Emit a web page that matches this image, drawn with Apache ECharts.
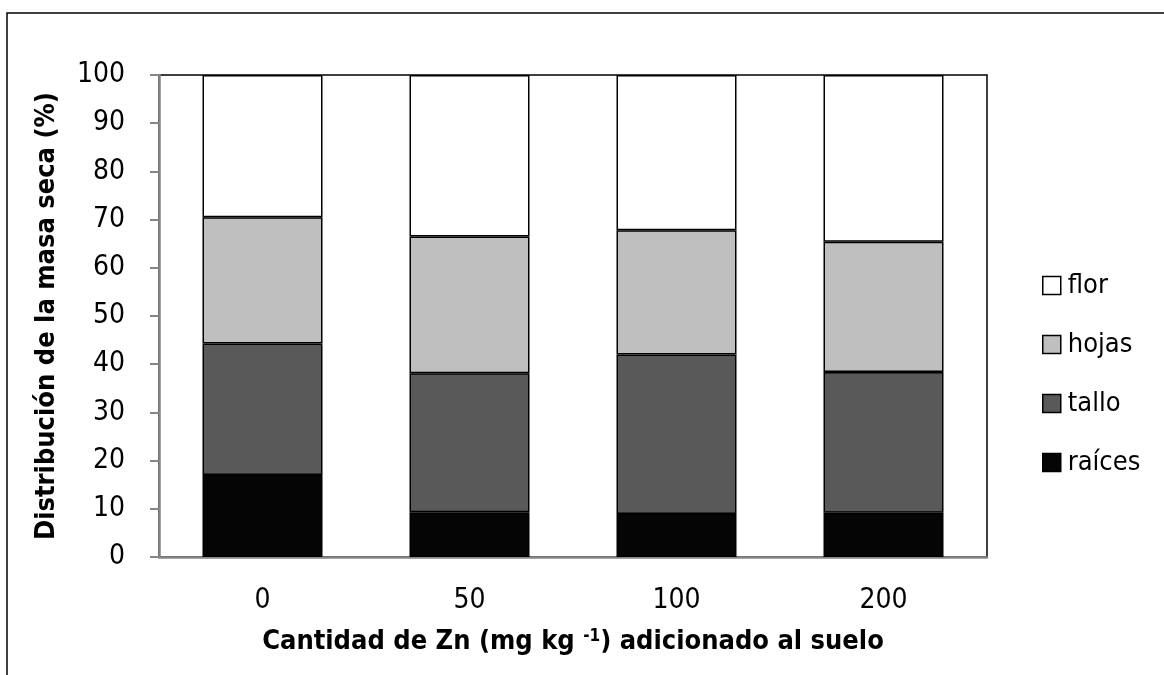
<!DOCTYPE html>
<html><head><meta charset="utf-8">
<script src="https://cdn.jsdelivr.net/npm/echarts@6/dist/echarts.min.js"></script>
<style>html,body{margin:0;padding:0;background:#fff}#c{width:1164px;height:675px}</style>
</head><body><div id="c"></div>
<script>
const categories = ['0', '50', '100', '200'];
const raices = [17.0, 9.3, 8.9, 9.2];
const tallo = [27.3, 28.8, 33.1, 29.2];
const hojas = [26.2, 28.4, 25.8, 27.0];
const flor = [29.5, 33.5, 32.2, 34.6];
const yTicks = [0, 10, 20, 30, 40, 50, 60, 70, 80, 90, 100];

const FONT = '"Liberation Sans Narrow", "DejaVu Sans Condensed", "Liberation Sans", sans-serif';
const chart = echarts.init(document.getElementById('c'));
function mk(name, data, color) {
  return {
    name, type: 'bar', stack: 'total', data, barWidth: 120,
    itemStyle: { color, borderColor: '#000', borderWidth: 1.5 },
    emphasis: { disabled: true }
  };
}
chart.setOption({
  animation: false,
  textStyle: { fontFamily: FONT },
  graphic: [{
    type: 'rect', shape: { x: 7, y: 13, width: 1300, height: 800 },
    style: { fill: 'none', stroke: '#000', lineWidth: 1.5 }, silent: true, z: -10
  }],
  grid: { left: 159, right: 1164 - 987, top: 75, bottom: 675 - 557, show: true,
    borderColor: '#000', borderWidth: 1.5, backgroundColor: 'transparent' },
  legend: {
    orient: 'vertical', left: 1037, top: 267, itemWidth: 18, itemHeight: 18, itemGap: 32,
    icon: 'rect', data: ['flor', 'hojas', 'tallo', 'raíces'],
    itemStyle: { borderColor: '#000', borderWidth: 1.5 },
    textStyle: { fontFamily: FONT, fontSize: 27, color: '#000', padding: [0, 0, 0, 2] }
  },
  xAxis: {
    type: 'category', data: categories,
    axisLine: { lineStyle: { color: '#868686', width: 2.5 } },
    axisTick: { show: false },
    axisLabel: { fontFamily: FONT, fontSize: 28, color: '#000', margin: 30 },
    name: 'x', nameLocation: 'middle', nameGap: 71,
    nameTextStyle: {
      rich: {
        t: { fontFamily: FONT, fontSize: 27, fontWeight: 'bold', color: '#000' },
        s: { fontFamily: FONT, fontSize: 17, fontWeight: 'bold', color: '#000', verticalAlign: 'top', padding: [0, 0, 10, 0] }
      }
    }
  },
  yAxis: {
    type: 'value', min: 0, max: 100, interval: 10,
    axisLine: { show: true, lineStyle: { color: '#868686', width: 2.5 } },
    axisTick: { show: true, length: 9, lineStyle: { color: '#868686', width: 2 } },
    splitLine: { show: false },
    axisLabel: { fontFamily: FONT, fontSize: 28, color: '#000', margin: 34,
      formatter: v => yTicks.includes(v) ? String(v) : '' },
    name: 'Distribución de la masa seca (%)', nameLocation: 'middle', nameGap: 99,
    nameTextStyle: { fontFamily: FONT, fontSize: 27, fontWeight: 'bold', color: '#000' }
  },
  series: [
    mk('raíces', raices, '#050505'),
    mk('tallo', tallo, '#595959'),
    mk('hojas', hojas, '#bfbfbf'),
    mk('flor', flor, '#ffffff')
  ]
});
chart.setOption({ xAxis: { name: '{t|Cantidad de Zn (mg kg }{s|-1}{t|) adicionado al suelo}' } });
</script></body></html>
